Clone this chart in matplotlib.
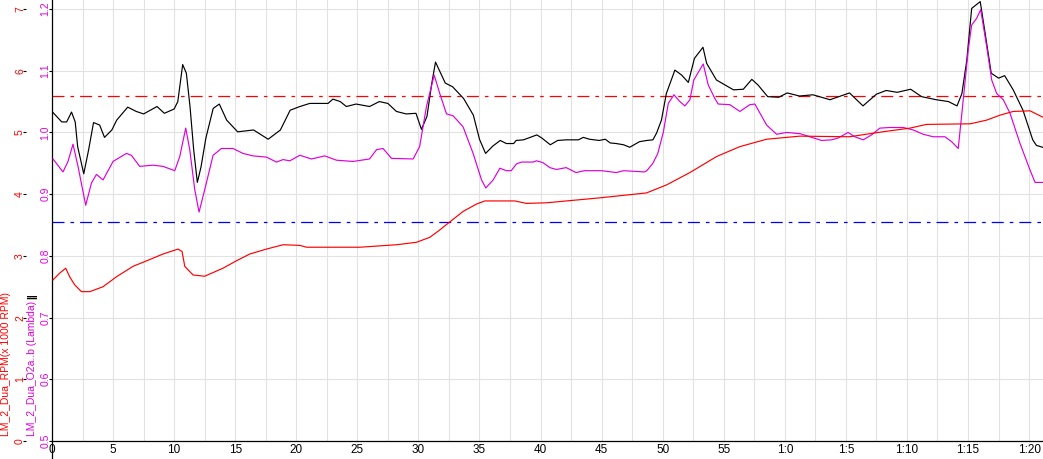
import matplotlib
matplotlib.use('Agg')
import matplotlib.pyplot as plt
from matplotlib.lines import Line2D

plt.rcParams['font.family'] = ['Liberation Sans', 'DejaVu Sans']

# ---------------- data ----------------
black_t = [0, 0.8, 1.2, 1.6, 1.9, 2.1, 2.6, 3.0, 3.4, 3.9, 4.3, 4.9, 5.3, 6.2, 6.9, 7.5,
           8.6, 9.2, 10.0, 10.3, 10.7, 11.0, 11.3, 11.6, 11.9, 12.2, 12.6, 13.2, 13.7, 14.3,
           15.2, 16.5, 17.7, 18.7, 19.5, 20.3,
           21.1, 22.6, 23.0, 23.6, 24.1, 24.9, 26.0, 26.8, 27.5, 28.2, 29.0, 29.8, 30.25,
           30.7, 31.1, 31.4, 32.2, 32.8, 33.7, 34.5,
           35.0, 35.5, 36.1, 36.7, 37.2, 37.8, 38.0, 38.6, 39.7, 40.1, 40.8, 41.4, 42.1,
           43.1, 43.5, 44.0, 44.8, 45.3, 45.7, 46.2, 46.8, 47.3, 48.1, 48.7, 49.2, 49.5, 49.9,
           50.3, 51.0, 51.55, 52.1, 52.6, 53.3, 53.6, 54.4, 55.8, 56.6, 57.3, 57.8, 58.6,
           59.5, 60.2, 61.2,
           62.3, 63.7, 65.3, 66.4, 67.5, 68.3, 69.2, 70.3, 71.2, 72.4, 73.4, 74.1, 74.5,
           74.9, 75.3, 76.0, 76.4, 76.9, 77.5, 78.0, 78.7, 79.5, 80.3, 80.6, 81.1]
black_lambda = [1.034, 1.017, 1.017, 1.033, 1.017, 0.977, 0.933, 0.972, 1.016, 1.012, 0.992,
                1.004, 1.020, 1.041, 1.034, 1.030, 1.042, 1.031, 1.038, 1.050, 1.110, 1.096,
                1.042, 0.972, 0.919, 0.944, 0.991, 1.039, 1.046, 1.020, 1.001, 1.004, 0.989,
                1.004, 1.036, 1.042,
                1.047, 1.047, 1.054, 1.050, 1.042, 1.046, 1.042, 1.050, 1.047, 1.034, 1.030,
                1.031, 1.005, 1.026, 1.080, 1.114, 1.080, 1.074, 1.055, 1.028,
                0.989, 0.966, 0.978, 0.987, 0.982, 0.982, 0.987, 0.988, 0.996, 0.991, 0.980,
                0.987, 0.988, 0.988, 0.992, 0.989, 0.987, 0.989, 0.983, 0.982, 0.980, 0.976,
                0.985, 0.987, 0.988, 0.999, 1.020,
                1.063, 1.101, 1.093, 1.081, 1.120, 1.138, 1.112, 1.085, 1.069, 1.070, 1.086,
                1.077, 1.058, 1.057, 1.064, 1.059,
                1.061, 1.053, 1.064, 1.043, 1.062, 1.068, 1.065, 1.070, 1.058, 1.053, 1.050,
                1.043, 1.063, 1.117, 1.201, 1.212, 1.161, 1.096, 1.088, 1.092, 1.069, 1.036,
                0.988, 0.979, 0.976]

magenta_t = [0.08, 0.9, 1.31, 1.72, 2.13, 2.76, 3.23, 3.64, 4.18, 5.0, 6.09, 6.5, 7.18, 8.27,
             9.09, 10.05, 10.46, 10.95, 11.28, 11.69, 12.04, 12.5, 13.19, 13.87, 14.82, 15.64,
             16.46, 17.56, 18.38, 18.92, 19.47, 20.29,
             21.24, 22.33, 23.29, 24.65, 26.0, 26.57, 27.1, 27.8, 29.57, 30.1, 30.66, 31.29,
             31.75, 32.3, 32.84, 33.66, 34.48, 35.17, 35.52, 36.12,
             36.67, 37.2, 37.6, 38.03, 38.44, 39.4, 39.67, 40.2, 40.76, 41.3, 42.1, 42.5,
             42.9, 43.6, 45.0, 45.4, 46.2, 46.8, 48.5, 48.7, 49.2, 49.6, 50.05,
             50.46, 50.92, 51.41, 51.82, 52.23, 52.55, 53.32, 53.73, 54.27, 54.55, 55.5,
             56.32, 57.14, 57.55, 58.51, 59.33, 60.15, 61.24,
             62.05, 63.01, 63.83, 64.37, 65.18, 65.73, 66.42, 67.1, 67.78, 68.6, 69.7, 70.52,
             71.33, 72.15, 73.11, 73.66, 74.2, 74.61, 75.02, 75.3, 75.71, 76.04, 76.53, 76.94,
             77.35, 77.89, 78.44, 79.26, 80.08, 80.49, 81.1]
magenta_lambda = [0.957, 0.936, 0.953, 0.981, 0.945, 0.882, 0.918, 0.932, 0.923, 0.953, 0.966,
                  0.963, 0.945, 0.947, 0.945, 0.938, 0.961, 1.007, 0.972, 0.907, 0.871, 0.907,
                  0.963, 0.974, 0.974, 0.966, 0.962, 0.960, 0.952, 0.956, 0.954, 0.963,
                  0.957, 0.962, 0.955, 0.953, 0.957, 0.972, 0.974, 0.958, 0.957, 0.977, 1.042,
                  1.093, 1.063, 1.030, 1.027, 1.009, 0.966, 0.923, 0.910, 0.923,
                  0.942, 0.938, 0.938, 0.949, 0.952, 0.952, 0.954, 0.951, 0.943, 0.940, 0.943,
                  0.939, 0.935, 0.938, 0.938, 0.937, 0.935, 0.938, 0.936, 0.938, 0.950, 0.966,
                  1.000,
                  1.047, 1.061, 1.050, 1.043, 1.053, 1.085, 1.111, 1.077, 1.055, 1.046, 1.045,
                  1.034, 1.045, 1.046, 1.012, 0.997, 1.000, 0.998,
                  0.993, 0.987, 0.988, 0.991, 1.000, 0.993, 0.988, 0.996, 1.007, 1.008, 1.008,
                  1.004, 0.997, 0.993, 0.993, 0.985, 0.974, 1.053, 1.134, 1.174, 1.185, 1.199,
                  1.139, 1.085, 1.063, 1.053, 1.031, 0.982, 0.939, 0.919, 0.919]

rpm_t = [0.08, 0.63, 1.12, 1.45, 1.86, 2.41, 3.09, 4.18, 5.27, 6.63, 8.0, 9.09, 10.32, 10.65,
         10.87, 11.55, 12.5, 14.0, 15.1, 16.19, 17.56, 18.92, 20.29, 20.84, 25.2, 28.2, 29.84,
         30.93, 31.75, 32.57, 33.66, 34.76, 35.44, 37.9, 38.85, 40.49, 44.86, 48.68, 50.32,
         52.23, 54.42, 56.32, 58.51, 61.24, 65.3, 68.0, 70.25, 71.6, 75.2, 76.53, 77.62, 78.7,
         80.08, 81.1]
rpm_k = [2.61, 2.72, 2.80, 2.66, 2.53, 2.42, 2.42, 2.50, 2.66, 2.83, 2.94, 3.03, 3.11, 3.07,
         2.83, 2.69, 2.67, 2.80, 2.92, 3.03, 3.11, 3.18, 3.17, 3.14, 3.14, 3.18, 3.22,
         3.30, 3.42, 3.55, 3.72, 3.84, 3.89, 3.89, 3.85, 3.86, 3.94, 4.02, 4.15,
         4.35, 4.61, 4.77, 4.89, 4.94, 4.93, 5.01, 5.07, 5.13, 5.14, 5.20, 5.28, 5.34,
         5.35, 5.25]

lambda_upper = 1.059
lambda_lower = 0.855

x_ticks = [0, 5, 10, 15, 20, 25, 30, 35, 40, 45, 50, 55, 60, 65, 70, 75, 80]
x_tick_labels = ['0', '5', '10', '15', '20', '25', '30', '35', '40', '45', '50', '55',
                 '1:0', '1:5', '1:10', '1:15', '1:20']
x_minor = [2.5, 7.5, 12.5, 17.5, 22.5, 27.5, 32.5, 37.5, 42.5, 47.5, 52.5, 57.5,
           62.5, 67.5, 72.5, 77.5]
lambda_ticks = [0.5, 0.6, 0.7, 0.8, 0.9, 1.0, 1.1, 1.2]
lambda_tick_labels = ['0.5', '0.6', '0.7', '0.8', '0.9', '1.0', '1.1', '1.2']
rpm_ticks = [0, 1, 2, 3, 4, 5, 6, 7]
rpm_tick_labels = ['0', '1', '2', '3', '4', '5', '6', '7']

# ---------------- figure ----------------
W, H = 1043, 459
MAG = '#dd00dd'
fig = plt.figure(figsize=(W / 100, H / 100), dpi=100)
ax = fig.add_axes([52 / W, 18 / H, (W - 52) / W, 441 / H])

ax.set_xlim(0, 81.14)
ax.set_ylim(0.5, 1.2146)

ax.grid(True, which='major', axis='y', color='#e2e2e2', lw=0.8)
ax.grid(True, which='both', axis='x', color='#e2e2e2', lw=0.8)
ax.set_axisbelow(True)

dash = (0, (9.6, 4.8, 2.9, 4.8))
ax.axhline(lambda_upper, color='red', lw=0.9, linestyle=dash, zorder=2)
ax.axhline(lambda_lower, color='blue', lw=0.9, linestyle=dash, zorder=2)
ax.plot(black_t, black_lambda, color='black', lw=0.85, zorder=3)
ax.plot(magenta_t, magenta_lambda, color=MAG, lw=0.85, zorder=4)

ax.set_xticks(x_ticks, x_tick_labels)
ax.set_xticks(x_minor, minor=True)
ax.tick_params(axis='x', which='both', length=0, pad=2.5, labelsize=8.5, labelcolor='black')

ax.set_yticks(lambda_ticks, lambda_tick_labels)
ax.tick_params(axis='y', length=2.5, width=0.8, color='black', labelcolor=MAG,
               labelsize=7.5, pad=-1.2, labelrotation=90)
for lab in ax.get_yticklabels():
    lab.set_va('center')

for s in ['top', 'right']:
    ax.spines[s].set_visible(False)
for s in ['left', 'bottom']:
    ax.spines[s].set_color('black')
    ax.spines[s].set_linewidth(0.9)

ax2 = ax.twinx()
ax2.set_ylim(0, 7.146)
ax2.plot(rpm_t, rpm_k, color='red', lw=0.85, zorder=3)
for s in ax2.spines.values():
    s.set_visible(False)
ax2.yaxis.set_ticks_position('left')
ax2.spines['left'].set_position(('outward', 18.7))
ax2.set_yticks(rpm_ticks, rpm_tick_labels)
ax2.tick_params(axis='y', length=2.5, width=0.8, color='black', labelcolor='red',
                labelsize=7.5, pad=-1.8, labelrotation=90)
for lab in ax2.get_yticklabels():
    lab.set_va('center')

# axis titles
fig.text(6 / W, 23 / H, 'LM_2_Dua_RPM(x 1000 RPM)', rotation=90, color='red',
         fontsize=7.5, ha='center', va='bottom')
mag_txt = fig.text(32 / W, 23 / H, 'LM_2_Dua_O2a..b (Lambda)', rotation=90, color=MAG,
                   fontsize=7.5, ha='center', va='bottom')
ax.annotate('||', xy=(0.5, 1.0), xycoords=mag_txt, xytext=(0, 1), textcoords='offset points',
            rotation=90, ha='center', va='bottom', fontsize=7.5, fontweight='bold',
            color='black', annotation_clip=False)

# spine continues below the time axis
fig.add_artist(Line2D([52 / W, 52 / W], [0, 18 / H], transform=fig.transFigure,
                      color='black', lw=0.9))

fig.savefig('out.png', dpi=100)
